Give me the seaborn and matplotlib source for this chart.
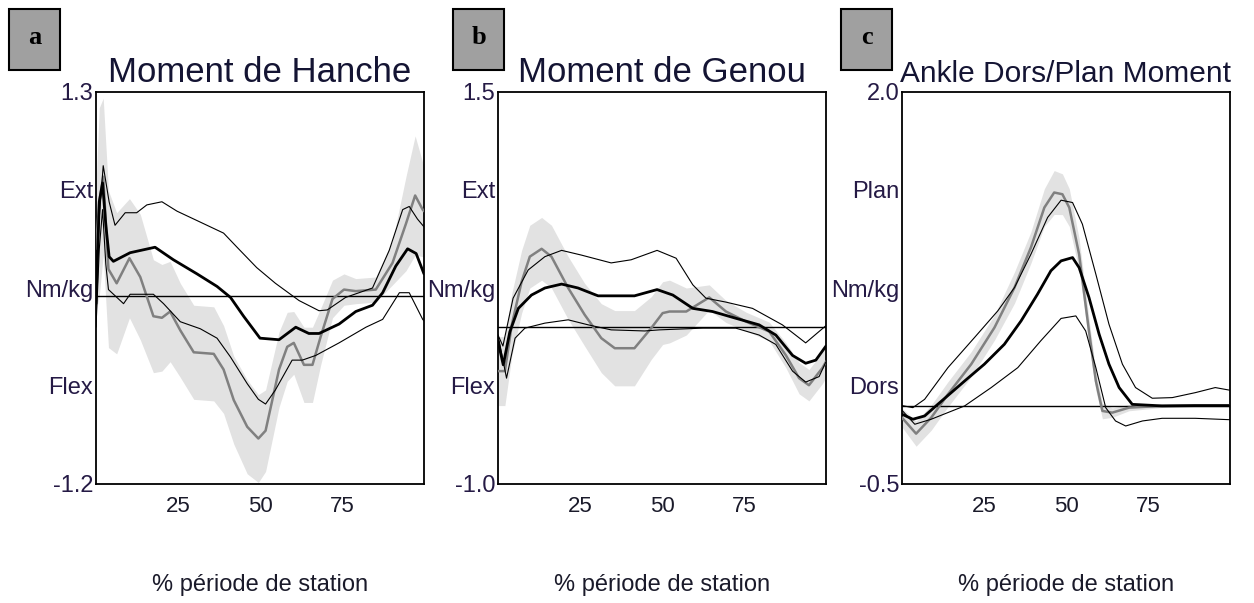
import numpy as np
import matplotlib
matplotlib.use("Agg")
import matplotlib.pyplot as plt
from matplotlib.patches import Rectangle
import seaborn as sns

# --- Hanche (hip) ---
hip_mean_x = [0, 1, 2, 3, 4, 5.3, 10.4, 18, 23.6, 30.8, 36.9, 41, 45, 50, 55.8, 60.9, 64.9, 68, 74.1, 79.2, 84.3, 87.4, 91.4, 95, 97.6, 100]
hip_mean_y = [-0.05, 0.6, 0.72, 0.45, 0.25, 0.22, 0.275, 0.31, 0.23, 0.14, 0.06, -0.01, -0.13, -0.27, -0.28, -0.2, -0.24, -0.24, -0.18, -0.10, -0.06, 0.02, 0.19, 0.30, 0.27, 0.14]
hip_up_x = [0, 1, 2.2, 4, 5.8, 8.9, 12.4, 15.5, 20.1, 24.7, 30.8, 38.9, 43, 49, 54.7, 61.9, 68, 70.5, 76.1, 84.3, 89.4, 93.5, 95.5, 98, 100]
hip_up_y = [0.0, 0.5, 0.83, 0.6, 0.45, 0.53, 0.53, 0.58, 0.6, 0.54, 0.48, 0.40, 0.31, 0.18, 0.08, -0.03, -0.095, -0.09, -0.01, 0.05, 0.29, 0.55, 0.57, 0.49, 0.44]
hip_lo_x = [0, 1, 2, 3, 3.8, 8.4, 10.4, 17.5, 20.6, 25.7, 31.8, 36.9, 41, 46.1, 49.5, 51.7, 54.7, 59.8, 62.9, 67, 74.1, 82.3, 87.4, 92.5, 95.5, 99.6, 100]
hip_lo_y = [-0.2, 0.3, 0.55, 0.2, 0.04, -0.05, 0.01, 0.01, -0.05, -0.165, -0.21, -0.27, -0.39, -0.56, -0.66, -0.69, -0.60, -0.41, -0.41, -0.38, -0.30, -0.20, -0.15, 0.02, 0.02, -0.15, -0.16]
hip_pat_x = [0, 1, 2.2, 3.8, 6.3, 10.2, 13.5, 17.5, 20.1, 22.6, 25.7, 29.8, 35.9, 38.9, 42, 46.1, 49.5, 51.7, 55.8, 58.3, 60.3, 63.4, 66, 68.5, 72.1, 75.6, 79.2, 85.3, 90.4, 94.5, 97.3, 99.6, 100]
hip_pat_y = [0.3, 0.6, 0.76, 0.17, 0.08, 0.24, 0.12, -0.13, -0.14, -0.10, -0.22, -0.36, -0.37, -0.47, -0.665, -0.835, -0.91, -0.86, -0.47, -0.325, -0.30, -0.44, -0.44, -0.26, -0.02, 0.04, 0.03, 0.04, 0.21, 0.46, 0.64, 0.55, 0.54]
hip_pat_sd = [0.4, 0.6, 0.5, 0.5, 0.45, 0.38, 0.4, 0.36, 0.34, 0.32, 0.3, 0.3, 0.3, 0.28, 0.28, 0.3, 0.28, 0.26, 0.24, 0.22, 0.2, 0.24, 0.24, 0.18, 0.12, 0.1, 0.08, 0.08, 0.14, 0.3, 0.38, 0.3, 0.3]

# --- Genou (knee) ---
knee_mean_x = [0, 1.6, 3.6, 6.2, 10.2, 14.3, 19.4, 24.4, 30.5, 41.6, 48.5, 53.3, 59.4, 65.4, 72.5, 79.6, 84.7, 89.8, 93.8, 96.9, 100]
knee_mean_y = [-0.09, -0.24, -0.03, 0.12, 0.205, 0.25, 0.275, 0.25, 0.20, 0.20, 0.24, 0.205, 0.12, 0.10, 0.057, 0.015, -0.05, -0.18, -0.23, -0.21, -0.12]
knee_up_x = [0, 1.5, 4.6, 9.2, 14.3, 19.4, 25.4, 34.5, 40.6, 48.5, 54.3, 59.4, 63.4, 69.5, 77.6, 86.7, 93.8, 100]
knee_up_y = [-0.05, -0.12, 0.185, 0.365, 0.45, 0.49, 0.46, 0.41, 0.43, 0.49, 0.44, 0.27, 0.185, 0.16, 0.12, 0.015, -0.10, 0.01]
knee_lo_x = [0, 2.6, 5.2, 8.2, 14.3, 21.4, 27.5, 34.5, 44.7, 49.2, 62.4, 72.5, 79.6, 84.7, 89.8, 93.8, 97.9, 100]
knee_lo_y = [-0.05, -0.325, -0.07, -0.006, 0.026, 0.047, 0.015, -0.017, -0.024, -0.017, -0.006, -0.006, -0.05, -0.11, -0.28, -0.35, -0.315, -0.22]
knee_pat_x = [0, 2.1, 4.2, 7.2, 9.7, 13.3, 16.3, 21.4, 26.4, 31.5, 35.6, 41.6, 46.7, 50.2, 52.3, 57.4, 64.4, 69.5, 75.6, 82.7, 87.8, 91.8, 94.8, 98.9, 100]
knee_pat_y = [-0.28, -0.28, 0.015, 0.29, 0.45, 0.50, 0.45, 0.25, 0.08, -0.07, -0.134, -0.134, -0.006, 0.09, 0.10, 0.10, 0.19, 0.10, 0.036, -0.028, -0.18, -0.325, -0.37, -0.26, -0.22]
knee_pat_sd = [0.22, 0.22, 0.2, 0.2, 0.2, 0.2, 0.2, 0.2, 0.2, 0.22, 0.24, 0.24, 0.2, 0.2, 0.2, 0.15, 0.08, 0.07, 0.06, 0.06, 0.08, 0.1, 0.1, 0.1, 0.1]

# --- Cheville (ankle) ---
ankle_mean_x = [0, 3.3, 6.9, 10.9, 19.1, 25.1, 31.2, 36.3, 41.3, 45.4, 48.5, 52, 54, 57, 60.1, 63.1, 66.2, 70.2, 79.3, 89.4, 100]
ankle_mean_y = [-0.055, -0.087, -0.066, 0.008, 0.157, 0.264, 0.391, 0.54, 0.71, 0.86, 0.923, 0.944, 0.88, 0.69, 0.455, 0.264, 0.115, 0.008, -0.002, 0.0, 0.0]
ankle_up_x = [0, 3.3, 6.9, 14, 22.1, 29.2, 34.3, 39.3, 44.4, 48.5, 52, 55, 59.1, 63.1, 67.2, 71.2, 76.3, 82.4, 89.5, 95.5, 100]
ankle_up_y = [0.0, -0.013, 0.04, 0.242, 0.434, 0.604, 0.753, 0.965, 1.2, 1.31, 1.295, 1.157, 0.838, 0.519, 0.264, 0.115, 0.047, 0.051, 0.083, 0.115, 0.098]
ankle_lo_x = [0, 3.9, 8.9, 19.1, 27.2, 35.3, 42.3, 48.5, 53, 56, 59.1, 62.1, 65.1, 68.2, 73.3, 79.3, 89.4, 100]
ankle_lo_y = [-0.03, -0.119, -0.087, -0.002, 0.115, 0.242, 0.413, 0.556, 0.572, 0.476, 0.242, -0.013, -0.098, -0.13, -0.098, -0.081, -0.081, -0.09]
ankle_pat_x = [0, 4.3, 8.9, 14, 21.1, 28.2, 34.3, 39.3, 43.4, 46.4, 48.9, 51, 54, 57, 59.1, 61.1, 64.1, 69.2, 79.3, 89.4, 100]
ankle_pat_y = [-0.077, -0.179, -0.077, 0.072, 0.264, 0.498, 0.753, 1.008, 1.263, 1.359, 1.348, 1.263, 0.965, 0.476, 0.157, -0.034, -0.045, -0.013, -0.002, 0.0, 0.0]
ankle_pat_sd = [0.06, 0.08, 0.08, 0.08, 0.08, 0.08, 0.1, 0.1, 0.12, 0.14, 0.13, 0.12, 0.1, 0.08, 0.06, 0.05, 0.03, 0.02, 0.01, 0.01, 0.01]

titles = ["Moment de Hanche", "Moment de Genou", "Ankle Dors/Plan Moment"]
title_sizes = [25, 25, 21.5]
letters = ["a", "b", "c"]
ylims = [(-1.2, 1.3), (-1.0, 1.5), (-0.5, 2.0)]
ymid_labels = [["Flex", "Nm/kg", "Ext"], ["Flex", "Nm/kg", "Ext"], ["Dors", "Nm/kg", "Plan"]]
xticks = [25, 50, 75]
xlabel = "% période de station"

panels = [
    (hip_mean_x, hip_mean_y, hip_up_x, hip_up_y, hip_lo_x, hip_lo_y, hip_pat_x, hip_pat_y, hip_pat_sd),
    (knee_mean_x, knee_mean_y, knee_up_x, knee_up_y, knee_lo_x, knee_lo_y, knee_pat_x, knee_pat_y, knee_pat_sd),
    (ankle_mean_x, ankle_mean_y, ankle_up_x, ankle_up_y, ankle_lo_x, ankle_lo_y, ankle_pat_x, ankle_pat_y, ankle_pat_sd),
]

sns.set_style("white")
plt.rcParams["font.family"] = ["Liberation Sans", "DejaVu Sans"]

W, H = 1254, 603
fig = plt.figure(figsize=(W / 100, H / 100), dpi=100)

ax_left = [96, 498, 902]
ax_w = 328
ax_top, ax_bot = 92, 484
box_left = [9, 453, 841]

label_col = "#251a45"
title_col = "#141433"

for i, (mx, my, ux, uy, lx, ly, px, py, psd) in enumerate(panels):
    ax = fig.add_axes([ax_left[i] / W, 1 - ax_bot / H, ax_w / W, (ax_bot - ax_top) / H])
    px_a, py_a, psd_a = np.array(px), np.array(py), np.array(psd)
    ax.fill_between(px_a, py_a - psd_a, py_a + psd_a, color="#e2e2e2", linewidth=0, zorder=1)
    ax.axhline(0, color="black", linewidth=1.0, zorder=2)
    sns.lineplot(x=px, y=py, ax=ax, color="#808080", linewidth=1.8, zorder=3)
    sns.lineplot(x=ux, y=uy, ax=ax, color="black", linewidth=0.8, zorder=4)
    sns.lineplot(x=lx, y=ly, ax=ax, color="black", linewidth=0.8, zorder=4)
    sns.lineplot(x=mx, y=my, ax=ax, color="black", linewidth=2.0, zorder=5)

    lo, hi = ylims[i]
    ax.set_xlim(0, 100)
    ax.set_ylim(lo, hi)
    rng = hi - lo
    ax.set_yticks([lo, lo + rng * 0.25, lo + rng * 0.5, lo + rng * 0.75, hi])
    ax.set_yticklabels([f"{lo:.1f}"] + ymid_labels[i] + [f"{hi:.1f}"])
    ax.set_xticks(xticks)
    ax.set_xticklabels([str(t) for t in xticks])
    ax.tick_params(axis="y", length=0, pad=2, labelsize=17, labelcolor=label_col)
    ax.tick_params(axis="x", length=0, pad=9, labelsize=16, labelcolor="#1a1a2a")
    for s in ax.spines.values():
        s.set_color("black")
        s.set_linewidth(1.3)
    ax.set_xlabel(xlabel, fontsize=17, color="#1a1a2a", labelpad=41)
    ax.set_ylabel("")
    ax.set_title(titles[i], fontsize=title_sizes[i], color=title_col, pad=7)

    bx = box_left[i]
    fig.patches.append(Rectangle((bx / W, 1 - 70 / H), 51 / W, 61 / H, transform=fig.transFigure,
                                 facecolor="#a0a0a0", edgecolor="black", linewidth=1.5))
    fig.text((bx + 25.5) / W, 1 - 38 / H, letters[i], ha="center", va="center", fontsize=19,
             fontweight="bold", family=["Liberation Serif", "DejaVu Serif"], color="black")

fig.savefig("out.png", dpi=100, facecolor="white")
